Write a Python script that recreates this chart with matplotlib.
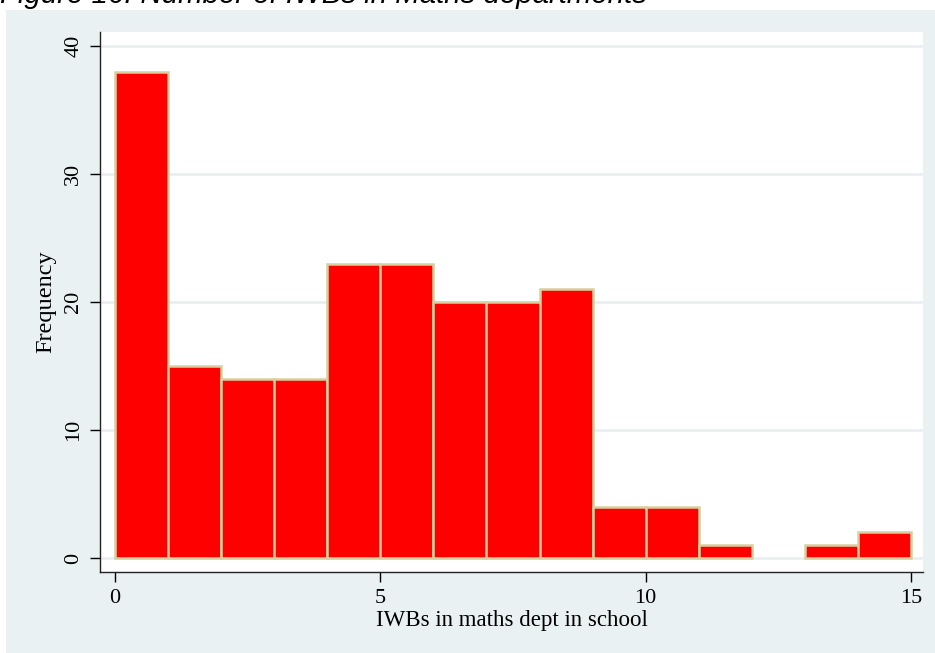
import matplotlib
matplotlib.use("Agg")
import matplotlib.pyplot as plt
from matplotlib.patches import Rectangle

W, H = 935, 653

bin_edges = list(range(0, 16))
counts = [38, 15, 14, 14, 23, 23, 20, 20, 21, 4, 4, 1, 0, 1, 2]
x_ticks = [0, 5, 10, 15]
y_ticks = [0, 10, 20, 30, 40]

BG = "#e9f1f3"
SERIF = "Liberation Serif"


def px(x0, y0, x1, y1):
    # pixel box (top-left origin) -> figure fraction rect
    return [x0 / W, 1 - y1 / H, (x1 - x0) / W, (y1 - y0) / H]


fig = plt.figure(figsize=(W / 100, H / 100), dpi=100)
fig.patch.set_facecolor("white")
fig.patches.append(Rectangle((6 / W, 0), 1, 1 - 10 / H, transform=fig.transFigure,
                             facecolor=BG, edgecolor="none", zorder=-10))

fig.text(0.0, 1 - 3 / H, "Figure 16: Number of IWBs in Maths departments",
         fontsize=21.2, style="italic", family="Liberation Sans", va="baseline", ha="left")

ax = fig.add_axes(px(100, 32, 923, 572))
ax.set_zorder(5)
ax.set_facecolor("white")

lefts = bin_edges[:-1]
widths = [b - a for a, b in zip(bin_edges[:-1], bin_edges[1:])]
# empty bins get no outline (Stata draws nothing there)
edges = ["#d8cf9e" if c > 0 else "none" for c in counts]
ax.bar(lefts, counts, width=widths, align="edge", color="#ff0000",
       edgecolor=edges, linewidth=1.8, zorder=3)

ax.set_xlim(-0.283, 15.226)
ax.set_ylim(-1.09, 41.09)

for y in y_ticks:
    ax.axhline(y, color="#e6eef0", linewidth=1.8, zorder=1)

ax.set_xticks(x_ticks)
ax.set_yticks(y_ticks)
ax.set_xticklabels([str(t) for t in x_ticks], fontsize=16, family=SERIF)
ax.set_yticklabels([str(t) for t in y_ticks], fontsize=16, family=SERIF,
                   rotation=90, va="center")
ax.tick_params(axis="both", length=7, width=1, color="black", pad=5)

for s in ["top", "right"]:
    ax.spines[s].set_visible(False)
for s in ["left", "bottom"]:
    ax.spines[s].set_linewidth(1)
    ax.spines[s].set_color("#222222")

ax.set_xlabel("IWBs in maths dept in school", fontsize=16.5, family=SERIF, labelpad=2)
ax.set_ylabel("Frequency", fontsize=17.5, family=SERIF, labelpad=6)

fig.savefig("out.png", dpi=100, facecolor=fig.get_facecolor())
